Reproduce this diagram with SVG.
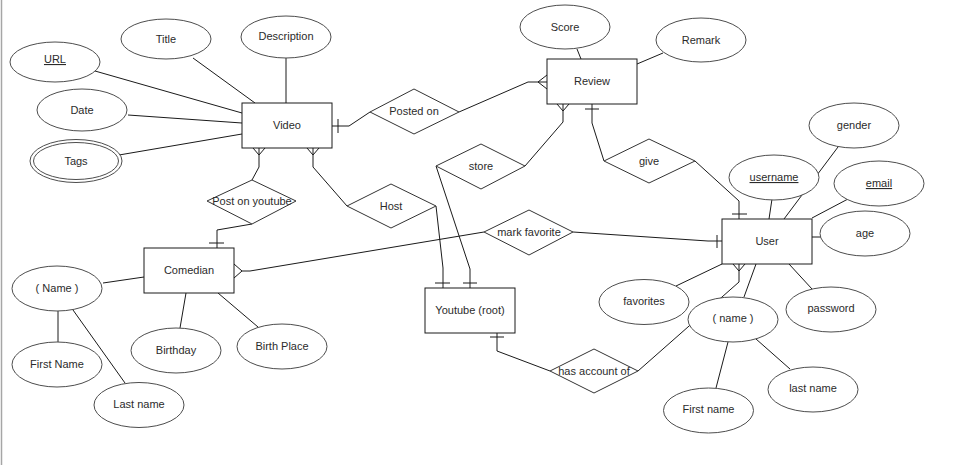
<svg xmlns="http://www.w3.org/2000/svg" width="954" height="465" viewBox="0 0 954 465">
<style>
.bg{fill:#fff}
.c{fill:none;stroke:#1a1a1a;stroke-width:1}
.e{fill:#fff;stroke:#4d4d4d;stroke-width:1}
.r{fill:#fff;stroke:#1a1a1a;stroke-width:1}
.d{fill:#fff;stroke:#333;stroke-width:1}
text{font-family:"Liberation Sans",Arial,sans-serif;font-size:11px;fill:#2b2b2b;text-anchor:middle}
.u{text-decoration:underline}
</style>
<rect class="bg" x="0" y="0" width="954" height="465"/>
<line x1="1.5" y1="0" x2="1.5" y2="465" stroke="#a6a6a6" stroke-width="1.5"/>
<g id="connectors">
  <!-- attribute lines -->
  <path class="c" d="M95,71 L242,113"/>
  <path class="c" d="M193,58 L255,103"/>
  <path class="c" d="M286,58 V103"/>
  <path class="c" d="M128,115 L242,123"/>
  <path class="c" d="M119,155 L242,134"/>
  <path class="c" d="M577,49 L581,59"/>
  <path class="c" d="M637,64 L663,53"/>
  <path class="c" d="M838,147 L784,219"/>
  <path class="c" d="M772,199 L769,219"/>
  <path class="c" d="M848,199 L812,218"/>
  <path class="c" d="M812,237 H821"/>
  <path class="c" d="M722,264 L676,286"/>
  <path class="c" d="M756,264 L744,297"/>
  <path class="c" d="M789,264 L812,289"/>
  <path class="c" d="M728,342 L716,388"/>
  <path class="c" d="M756,339 L790,369"/>
  <path class="c" d="M103,283 L144,277"/>
  <path class="c" d="M58,311 V342"/>
  <path class="c" d="M73,310 L125,383"/>
  <path class="c" d="M186,293 L180,328"/>
  <path class="c" d="M218,293 L258,327"/>
  <!-- Video - Posted on - Review -->
  <path class="c" d="M332,126 H349 L370,112"/>
  <path class="c" d="M338,119 V133"/>
  <path class="c" d="M459,112 L528,82 H547"/>
  <path class="c" d="M547,75 L538,82 L547,89"/>
  <!-- Video - Post on youtube - Comedian -->
  <path class="c" d="M259,148 V167 L252,180"/>
  <path class="c" d="M253,148 L259,155 L265,148"/>
  <path class="c" d="M252,224 L217,230 V248"/>
  <path class="c" d="M209,243 H224"/>
  <!-- Video - Host - Youtube -->
  <path class="c" d="M313,148 V167 L347,206"/>
  <path class="c" d="M307,148 L313,155 L319,148"/>
  <path class="c" d="M436,206 L443,268 V288"/>
  <path class="c" d="M435,283 H450"/>
  <!-- Review - store - Youtube -->
  <path class="c" d="M563,104 V122 L525,166"/>
  <path class="c" d="M557,104 L563,111 L569,104"/>
  <path class="c" d="M436,166 L470,269 V288"/>
  <path class="c" d="M463,283 H477"/>
  <!-- Review - give - User -->
  <path class="c" d="M592,104 V123 L604,161"/>
  <path class="c" d="M585,109 H599"/>
  <path class="c" d="M695,161 L739,201 V219"/>
  <path class="c" d="M732,214 H747"/>
  <!-- Comedian - mark favorite - User -->
  <path class="c" d="M242,271 H250 L484,232"/>
  <path class="c" d="M234,264 L242,271 L234,278"/>
  <path class="c" d="M573,232 L708,241 H722"/>
  <path class="c" d="M717,235 V248"/>
  <!-- Youtube - has account of - User -->
  <path class="c" d="M497,333 V351 L550,371"/>
  <path class="c" d="M490,337 H504"/>
  <path class="c" d="M638,371 L739,282 V264"/>
  <path class="c" d="M733,264 L739,271 L745,264"/>
</g>
<g id="video"><rect class="r" x="242" y="103" width="90" height="45"/><text x="287" y="129">Video</text></g>
<g id="url"><ellipse class="e" cx="55" cy="62" rx="45" ry="20"/><text class="u" x="55" y="63">URL</text></g>
<g id="title"><ellipse class="e" cx="166" cy="39" rx="45" ry="20"/><text x="166" y="43">Title</text></g>
<g id="description"><ellipse class="e" cx="286" cy="37" rx="45" ry="21"/><text x="286" y="40">Description</text></g>
<g id="date"><ellipse class="e" cx="82" cy="110" rx="45" ry="21"/><text x="82" y="114">Date</text></g>
<g id="tags"><ellipse class="e" cx="76" cy="161" rx="46" ry="21.5"/><ellipse class="e" cx="76" cy="161" rx="42.5" ry="18.5"/><text x="76" y="165">Tags</text></g>
<g id="posted-on"><polygon class="d" points="370,112 414,89 459,112 414,134"/><text x="414" y="115">Posted on</text></g>
<g id="review"><rect class="r" x="547" y="59" width="90" height="45"/><text x="592" y="85">Review</text></g>
<g id="score"><ellipse class="e" cx="565" cy="27" rx="45" ry="22"/><text x="565" y="31">Score</text></g>
<g id="remark"><ellipse class="e" cx="701" cy="40" rx="45" ry="22"/><text x="701" y="44">Remark</text></g>
<g id="store"><polygon class="d" points="436,166 481,144 525,166 481,189"/><text x="481" y="170">store</text></g>
<g id="give"><polygon class="d" points="604,161 649,139 695,161 649,183"/><text x="649" y="165">give</text></g>
<g id="host"><polygon class="d" points="347,206 391,184 436,206 391,228"/><text x="391" y="210">Host</text></g>
<g id="post-on-youtube"><polygon class="d" points="207,201 252,180 296,201 252,224"/><text x="252" y="205">Post on youtube</text></g>
<g id="mark-favorite"><polygon class="d" points="484,232 529,210 573,232 529,255"/><text x="529" y="236">mark favorite</text></g>
<g id="has-account-of"><polygon class="d" points="550,371 594,349 638,371 594,393"/><text x="594" y="375">has account of</text></g>
<g id="comedian"><rect class="r" x="144" y="248" width="90" height="45"/><text x="189" y="274">Comedian</text></g>
<g id="comedian-name"><ellipse class="e" cx="57" cy="288.5" rx="45" ry="22.5"/><text x="57" y="292">( Name )</text></g>
<g id="comedian-first-name"><ellipse class="e" cx="57" cy="364.5" rx="45" ry="22.5"/><text x="57" y="368">First Name</text></g>
<g id="comedian-last-name"><ellipse class="e" cx="139" cy="405" rx="45" ry="22.5"/><text x="139" y="408">Last name</text></g>
<g id="birthday"><ellipse class="e" cx="176" cy="350.5" rx="45" ry="22.5"/><text x="176" y="354">Birthday</text></g>
<g id="birth-place"><ellipse class="e" cx="282" cy="346.5" rx="45" ry="22.5"/><text x="282" y="350">Birth Place</text></g>
<g id="youtube-root"><rect class="r" x="425" y="288" width="90" height="45"/><text x="470" y="314">Youtube (root)</text></g>
<g id="user"><rect class="r" x="722" y="219" width="90" height="45"/><text x="767" y="245">User</text></g>
<g id="gender"><ellipse class="e" cx="854" cy="125.5" rx="45" ry="22.5"/><text x="854" y="129">gender</text></g>
<g id="username"><ellipse class="e" cx="774" cy="177.5" rx="45" ry="22.5"/><text class="u" x="774" y="181">username</text></g>
<g id="email"><ellipse class="e" cx="879" cy="183.5" rx="45" ry="22.5"/><text class="u" x="879" y="187">email</text></g>
<g id="age"><ellipse class="e" cx="865" cy="233.5" rx="45" ry="22.5"/><text x="865" y="237">age</text></g>
<g id="favorites"><ellipse class="e" cx="644" cy="302" rx="45" ry="22.5"/><text x="644" y="305">favorites</text></g>
<g id="user-name"><ellipse class="e" cx="733" cy="319.5" rx="45" ry="22.5"/><text x="733" y="322">( name )</text></g>
<g id="password"><ellipse class="e" cx="831" cy="309.5" rx="45" ry="22.5"/><text x="831" y="312">password</text></g>
<g id="user-first-name"><ellipse class="e" cx="708.5" cy="410.5" rx="45" ry="22.5"/><text x="708.5" y="413">First name</text></g>
<g id="user-last-name"><ellipse class="e" cx="813" cy="389.5" rx="45" ry="22.5"/><text x="813" y="392">last name</text></g>
</svg>
